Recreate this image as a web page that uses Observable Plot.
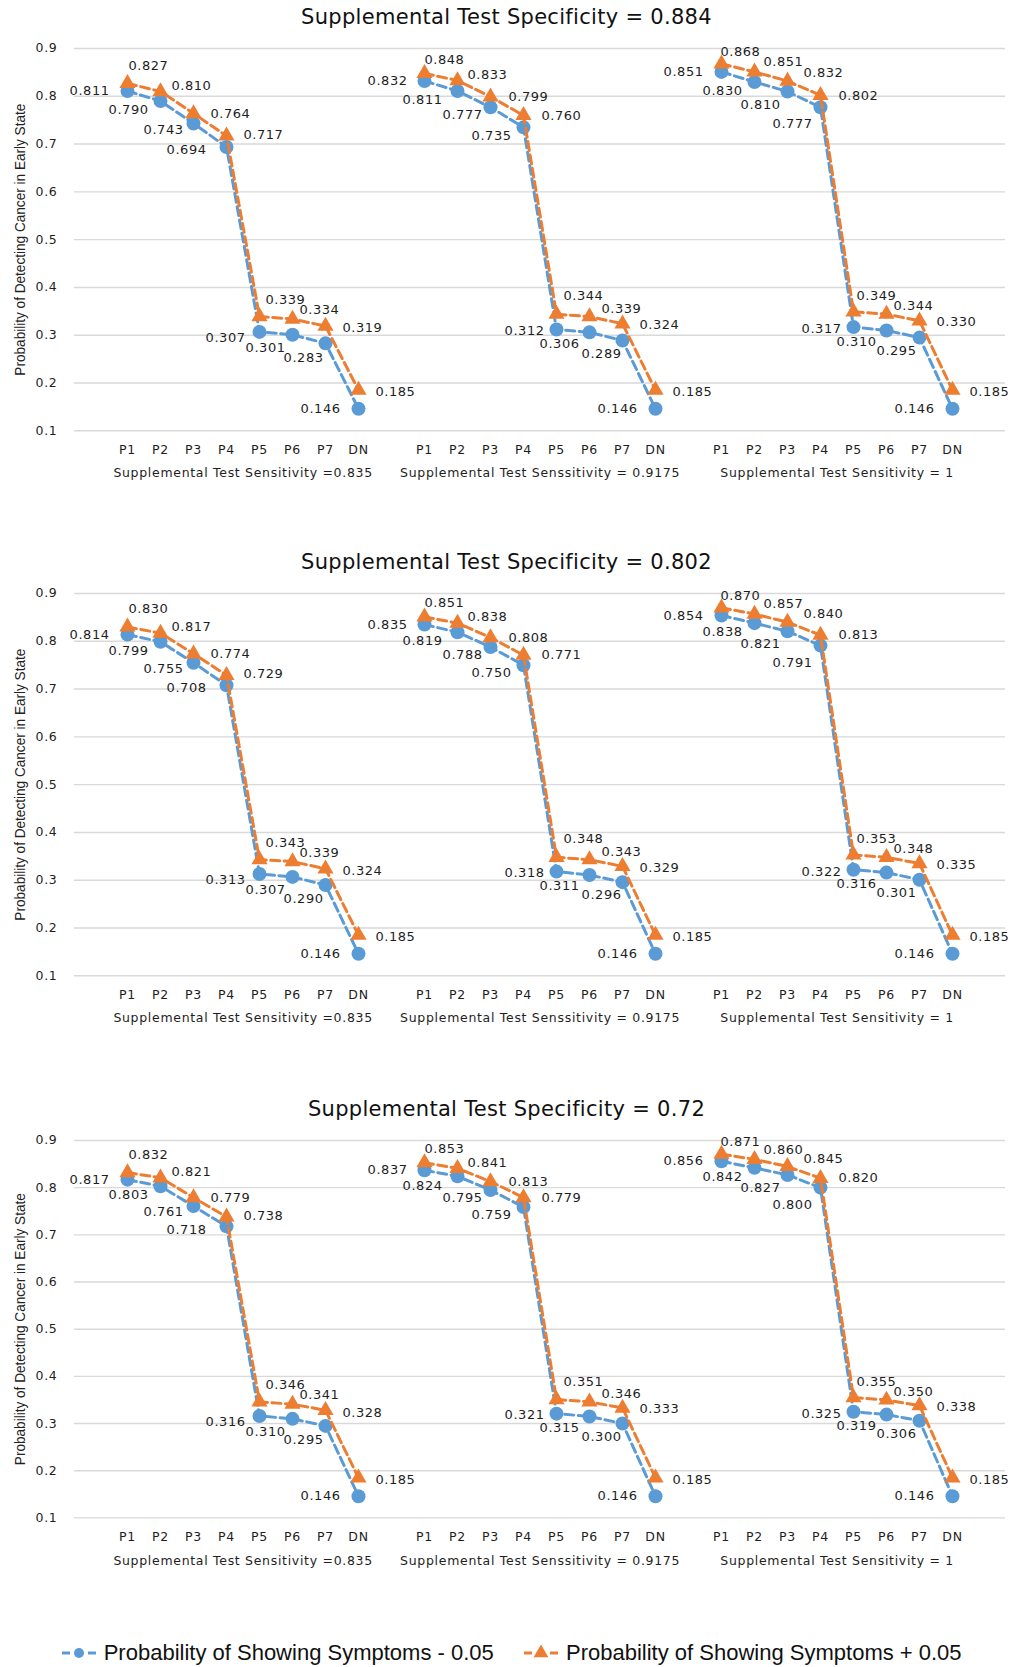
<!DOCTYPE html>
<html>
<head>
<meta charset="utf-8">
<script src="https://cdn.jsdelivr.net/npm/d3@7"></script>
<script src="https://cdn.jsdelivr.net/npm/@observablehq/plot@0.6"></script>
<style>
  html, body { margin: 0; padding: 0; background: #fff; }
  body { width: 1013px; height: 1667px; position: relative; overflow: hidden; font-family: "DejaVu Sans", sans-serif; }
  .title { position: absolute; left: 0; width: 1013px; text-align: center; font-size: 21px; line-height: 24px; letter-spacing: 0.3px; color: #111; white-space: nowrap; }
  .legend-item { position: absolute; height: 26px; display: flex; align-items: center; white-space: nowrap; }
  .legend-item span { font-family: "Liberation Sans", Arial, sans-serif; font-size: 22px; color: #111; margin-left: 8px; }
</style>
</head>
<body>
<script>
// ---------- data ----------
const categories = ["P1", "P2", "P3", "P4", "P5", "P6", "P7", "DN"];
const groupLabels = [
  "Supplemental Test Sensitivity =0.835",
  "Supplemental Test Senssitivity = 0.9175",
  "Supplemental Test Sensitivity = 1"
];
const panelTitles = [
  "Supplemental Test Specificity = 0.884",
  "Supplemental Test Specificity = 0.802",
  "Supplemental Test Specificity = 0.72"
];
const yTitle = "Probability of Detecting Cancer in Early State";
const yTicks = [0.1, 0.2, 0.3, 0.4, 0.5, 0.6, 0.7, 0.8, 0.9];
const seriesNames = [
  "Probability of Showing Symptoms - 0.05",
  "Probability of Showing Symptoms + 0.05"
];

// Specificity = 0.884 (one row per sensitivity group)
const minusSpec884 = [
  [0.811, 0.790, 0.743, 0.694, 0.307, 0.301, 0.283, 0.146],
  [0.832, 0.811, 0.777, 0.735, 0.312, 0.306, 0.289, 0.146],
  [0.851, 0.830, 0.810, 0.777, 0.317, 0.310, 0.295, 0.146]
];
const plusSpec884 = [
  [0.827, 0.810, 0.764, 0.717, 0.339, 0.334, 0.319, 0.185],
  [0.848, 0.833, 0.799, 0.760, 0.344, 0.339, 0.324, 0.185],
  [0.868, 0.851, 0.832, 0.802, 0.349, 0.344, 0.330, 0.185]
];
// Specificity = 0.802
const minusSpec802 = [
  [0.814, 0.799, 0.755, 0.708, 0.313, 0.307, 0.290, 0.146],
  [0.835, 0.819, 0.788, 0.750, 0.318, 0.311, 0.296, 0.146],
  [0.854, 0.838, 0.821, 0.791, 0.322, 0.316, 0.301, 0.146]
];
const plusSpec802 = [
  [0.830, 0.817, 0.774, 0.729, 0.343, 0.339, 0.324, 0.185],
  [0.851, 0.838, 0.808, 0.771, 0.348, 0.343, 0.329, 0.185],
  [0.870, 0.857, 0.840, 0.813, 0.353, 0.348, 0.335, 0.185]
];
// Specificity = 0.72
const minusSpec72 = [
  [0.817, 0.803, 0.761, 0.718, 0.316, 0.310, 0.295, 0.146],
  [0.837, 0.824, 0.795, 0.759, 0.321, 0.315, 0.300, 0.146],
  [0.856, 0.842, 0.827, 0.800, 0.325, 0.319, 0.306, 0.146]
];
const plusSpec72 = [
  [0.832, 0.821, 0.779, 0.738, 0.346, 0.341, 0.328, 0.185],
  [0.853, 0.841, 0.813, 0.779, 0.351, 0.346, 0.333, 0.185],
  [0.871, 0.860, 0.845, 0.820, 0.355, 0.350, 0.338, 0.185]
];

// ---------- styling / layout (not data) ----------
const colors = ["#5B9BD5", "#ED7D31"];
const symbols = ["circle", "triangle"];
const radii = [7, 6];
const labelAnchor = ["end", "start"];
// data-label offsets (px) per sensitivity group and category, like the hand-placed Excel labels
const labelDx = [
  [[-18, -12, -10, -20, -14, -7, -2, -18], [-17, -15, -8, -12, -12, -10, -1, -18], [-18, -12, -7, -8, -12, -10, -3, -18]],
  [[1, 11, 17, 17, 6, 7, 17, 17], [0, 10, 18, 18, 7, 12, 17, 17], [-1, 9, 16, 18, 3, 7, 17, 17]]
];
const labelDy = [
  [[0, 9, 6, 3, 6, 13, 14, 0], [0, 9, 8, 8, 1, 11, 13, 0], [0, 9, 13, 17, 2, 11, 13, 0]],
  [[-18, -6, 0, -1, -17, -9, 2, 2], [-14, -6, 0, 0, -18, -8, 1, 2], [-12, -10, -8, 0, -16, -8, 1, 2]]
];
const panelLayout = [
  { gridTop: 47.7, gridBottom: 430 },
  { gridTop: 592.7, gridBottom: 975 },
  { gridTop: 1140.3, gridBottom: 1517.7 }
];

const W = 1013, ML = 74, MR = 8, MT = 18, MB = 62;
const panels = [[minusSpec884, plusSpec884], [minusSpec802, plusSpec802], [minusSpec72, plusSpec72]];
const fmt3 = d3.format(".3f");

panels.forEach((series, pi) => {
  const L = panelLayout[pi];
  const height = MT + (L.gridBottom - L.gridTop) + MB;

  const title = document.createElement("div");
  title.className = "title";
  title.style.top = (L.gridTop - 31 - 12) + "px";
  title.textContent = panelTitles[pi];
  document.body.appendChild(title);

  // x domain: blank slot, 8 categories, blank slot, ... (Excel multi-level category gaps)
  const xDomain = ["pad0"];
  groupLabels.forEach((g, gi) => {
    categories.forEach(c => xDomain.push(gi + "|" + c));
    xDomain.push("pad" + (gi + 1));
  });
  const step = (W - ML - MR) / xDomain.length;

  const rows = [];
  series.forEach((groups, s) => groups.forEach((arr, gi) => arr.forEach((v, ci) =>
    rows.push({ s, gi, ci, key: gi + "|" + categories[ci], v }))));

  const marks = [
    Plot.gridY(yTicks, { stroke: "#d9d9d9", strokeOpacity: 1, strokeWidth: 1.4 }),
    Plot.axisY(yTicks, { tickSize: 0, tickPadding: 17, tickFormat: d3.format(".1f"), label: null }),
    Plot.axisX({ tickSize: 0, tickPadding: 14, label: null,
      tickFormat: k => k.startsWith("pad") ? "" : k.split("|")[1] })
  ];

  [0, 1].forEach(s => {
    const d = rows.filter(r => r.s === s);
    marks.push(Plot.line(d, { x: "key", y: "v", z: "gi", stroke: colors[s], strokeWidth: 3, strokeDasharray: "9,4.5" }));
    marks.push(Plot.dot(d, { x: "key", y: "v", symbol: symbols[s], r: radii[s], fill: colors[s], stroke: "none" }));
  });

  [0, 1].forEach(s => {
    rows.filter(r => r.s === s).forEach(r => {
      marks.push(Plot.text([r], {
        x: "key", y: "v", text: d => fmt3(d.v), fontSize: 13,
        textAnchor: labelAnchor[s],
        dx: labelDx[s][r.gi][r.ci], dy: labelDy[s][r.gi][r.ci]
      }));
    });
  });

  marks.push(Plot.text(groupLabels, { x: (d, i) => i + "|P4", frameAnchor: "bottom", dy: 46.7, dx: step / 2 }));
  marks.push(Plot.text([yTitle], {
    frameAnchor: "left", textAnchor: "middle", rotate: -90, dx: -54,
    fontFamily: "Liberation Sans, Arial, sans-serif", fontSize: 14
  }));

  const svg = Plot.plot({
    width: W, height,
    marginLeft: ML, marginRight: MR, marginTop: MT, marginBottom: MB,
    x: { type: "point", domain: xDomain, padding: 0.5 },
    y: { domain: [0.1, 0.9] },
    style: { fontFamily: "\"DejaVu Sans\", sans-serif", fontSize: "12.5px", color: "#1e1e1e",
      background: "transparent", overflow: "visible", letterSpacing: "0.7px" },
    marks
  });
  svg.style.position = "absolute";
  svg.style.left = "0px";
  svg.style.top = (L.gridTop - MT) + "px";
  svg.style.maxWidth = "none";
  const texts = d3.select(svg).selectAll("text");
  texts.filter(function () { return /^0\.\d{3}$/.test(this.textContent); })
    .style("letter-spacing", "0.55px");
  texts.filter(function () { return this.textContent === yTitle; })
    .style("letter-spacing", "0px").style("fill", "#222")
    .attr("textLength", 272).attr("lengthAdjust", "spacingAndGlyphs");
  document.body.appendChild(svg);
});

// ---------- legend ----------
const legendX = [{ marker: 61.7, text: 103.3 }, { marker: 524, text: 564.4 }];
seriesNames.forEach((name, s) => {
  const item = document.createElement("div");
  item.className = "legend-item";
  item.style.left = legendX[s].marker + "px";
  item.style.top = (1653 - 13) + "px";
  const ns = "http://www.w3.org/2000/svg";
  const m = document.createElementNS(ns, "svg");
  m.setAttribute("width", 34); m.setAttribute("height", 26);
  const sel = d3.select(m);
  sel.append("line").attr("x1", 0).attr("x2", 8).attr("y1", 13).attr("y2", 13).attr("stroke", colors[s]).attr("stroke-width", 3);
  sel.append("line").attr("x1", 26).attr("x2", 34).attr("y1", 13).attr("y2", 13).attr("stroke", colors[s]).attr("stroke-width", 3);
  sel.append("path").attr("transform", "translate(17,13)")
    .attr("d", d3.symbol(s === 0 ? d3.symbolCircle : d3.symbolTriangle, s === 0 ? Math.PI * 25 : 95)())
    .attr("fill", colors[s]);
  item.appendChild(m);
  const span = document.createElement("span");
  span.textContent = name;
  item.appendChild(span);
  document.body.appendChild(item);
});
</script>
</body>
</html>
